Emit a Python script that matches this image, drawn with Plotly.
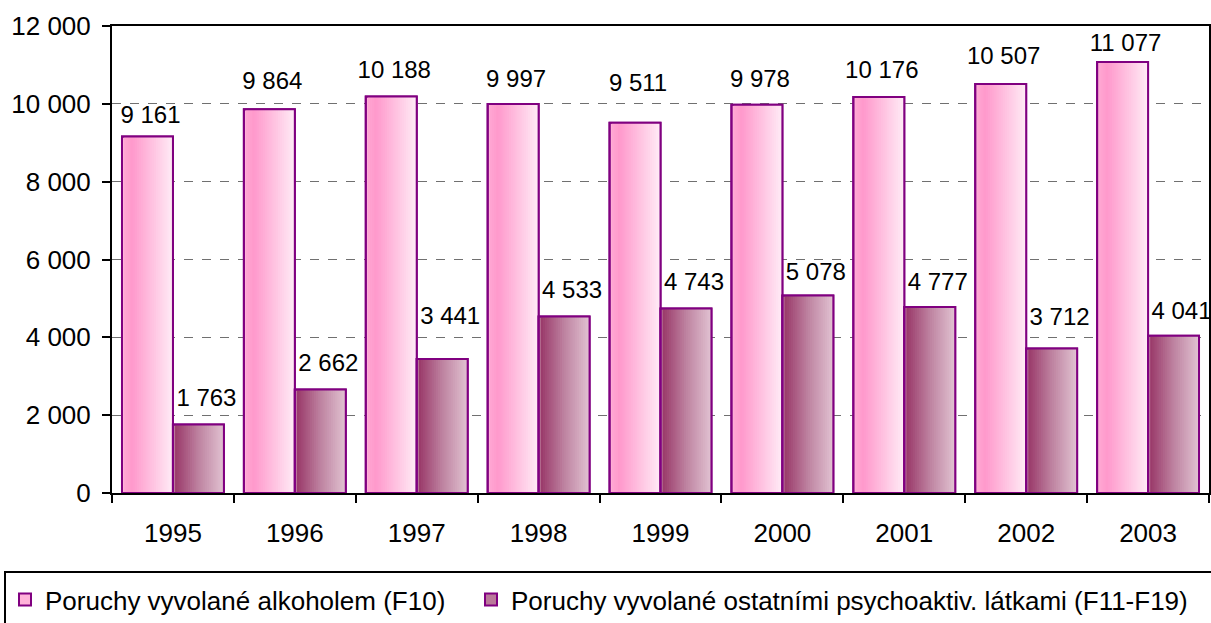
import plotly.graph_objects as go

years = ["1995", "1996", "1997", "1998", "1999", "2000", "2001", "2002", "2003"]
alkohol = [9161, 9864, 10188, 9997, 9511, 9978, 10176, 10507, 11077]
ostatni = [1763, 2662, 3441, 4533, 4743, 5078, 4777, 3712, 4041]
names = ["Poruchy vyvolané alkoholem (F10)",
         "Poruchy vyvolané ostatními psychoaktiv. látkami (F11-F19)"]

# label placement (style): pixels from bar top to label centre
lift_alk = [19, 26, 25, 23, 38, 24, 25, 26, 17]
lift_ost = [24, 24, 41, 25, 24, 21, 23, 30, 23]

# gradient stops (position, rgb) for each series
grad_pink = [(0.0, (255, 170, 212)), (0.2, (255, 153, 204)), (1.0, (255, 236, 246))]
grad_dark = [(0.0, (150, 50, 100)), (0.5, (190, 130, 160)), (1.0, (225, 195, 210))]

FONT = "Liberation Sans, Arial, sans-serif"
FS = 26        # axis / legend font
FS_LBL = 24    # data label font
BW = 0.418     # bar width in category units
NS = 24        # gradient slices
OUTLINE = "#800080"
W, H = 1211, 623
PW, PH = 1097, 467
YMAX = 12000
PX = YMAX / PH          # data units per pixel (vertical)
CAT_PX = PW / len(years)  # pixels per category

xpos = list(range(len(years)))


def interp(stops, t):
    for (p0, c0), (p1, c1) in zip(stops[:-1], stops[1:]):
        if p0 <= t <= p1:
            f = (t - p0) / (p1 - p0) if p1 > p0 else 0
            c = [round(a + (b - a) * f) for a, b in zip(c0, c1)]
            return "rgb(%d,%d,%d)" % tuple(c)
    return "rgb(%d,%d,%d)" % stops[-1][1]


fig = go.Figure()

series = [(alkohol, names[0], grad_pink, -BW, "legend", lift_alk, 3),
          (ostatni, names[1], grad_dark, 0.0, "legend2", lift_ost, 8)]

for vals, name, stops, base_off, lg, lift, dx_px in series:
    for i in range(NS):
        t = (i + 0.5) / NS
        off = base_off + i * BW / NS
        fig.add_trace(go.Bar(
            x=xpos, y=vals, offset=off, width=BW - i * BW / NS,
            marker=dict(color=interp(stops, t) if i > 0 else interp(stops, 0.45),
                        line=dict(color=OUTLINE, width=2 if i == 0 else 0)),
            name=name, showlegend=(i == 0), legend=lg, hoverinfo="skip"))
    fig.add_trace(go.Bar(
        x=xpos, y=vals, offset=base_off, width=BW,
        marker=dict(color="rgba(0,0,0,0)", line=dict(color=OUTLINE, width=2)),
        showlegend=False, name=name, hoverinfo="skip"))
    # value labels above bars
    fig.add_trace(go.Scatter(
        x=[p + base_off + BW / 2 + dx_px / CAT_PX for p in xpos],
        y=[v + d * PX for v, d in zip(vals, lift)],
        mode="text", text=["{:,}".format(v).replace(",", " ") for v in vals],
        textposition="middle center",
        textfont=dict(family=FONT, size=FS_LBL, color="black"),
        cliponaxis=False, showlegend=False, hoverinfo="skip"))

LEG_TOP = 576
fig.update_layout(
    width=W, height=H,
    margin=dict(l=112, r=2, t=26, b=130, autoexpand=False),
    paper_bgcolor="white", plot_bgcolor="white",
    separators=", ",
    barmode="overlay",
    font=dict(family=FONT, size=FS, color="black"),
    showlegend=True,
    legend=dict(orientation="h", xref="container", yref="container",
                x=5 / W, y=1 - LEG_TOP / H,
                xanchor="left", yanchor="top",
                borderwidth=0, bgcolor="rgba(0,0,0,0)",
                font=dict(family=FONT, size=FS, color="black")),
    legend2=dict(orientation="h", xref="container", yref="container",
                 x=471 / W, y=1 - LEG_TOP / H,
                 xanchor="left", yanchor="top",
                 borderwidth=0, bgcolor="rgba(0,0,0,0)",
                 font=dict(family=FONT, size=FS, color="black")),
    shapes=[dict(type="rect", xref="paper", yref="paper",
                 x0=(5 - 112) / PW, x1=1.05, y0=-0.5, y1=-(572 - 493) / PH,
                 line=dict(color="black", width=2), fillcolor="rgba(0,0,0,0)",
                 layer="below")],
)
fig.update_yaxes(range=[0, YMAX], dtick=2000, tickformat=",",
                 showgrid=True, gridcolor="#707070", griddash="dash", gridwidth=1,
                 zeroline=False, showline=True, linecolor="black", linewidth=2,
                 mirror=True, ticks="outside", ticklen=8, tickwidth=2, tickcolor="black",
                 ticklabelstandoff=6)
fig.update_xaxes(range=[-0.5, len(years) - 0.5], tickvals=xpos, ticktext=years,
                 showline=True, linecolor="black", linewidth=2,
                 mirror=True, ticks="", showgrid=False, zeroline=False,
                 ticklabelstandoff=16,
                 minor=dict(tickvals=[p - 0.5 for p in xpos] + [len(years) - 0.5],
                            ticks="outside", ticklen=8, tickwidth=2,
                            tickcolor="black", showgrid=False))

fig.write_html("out.html", config={"displayModeBar": False},
               post_script="document.body.style.margin='0';document.body.style.padding='0';")
